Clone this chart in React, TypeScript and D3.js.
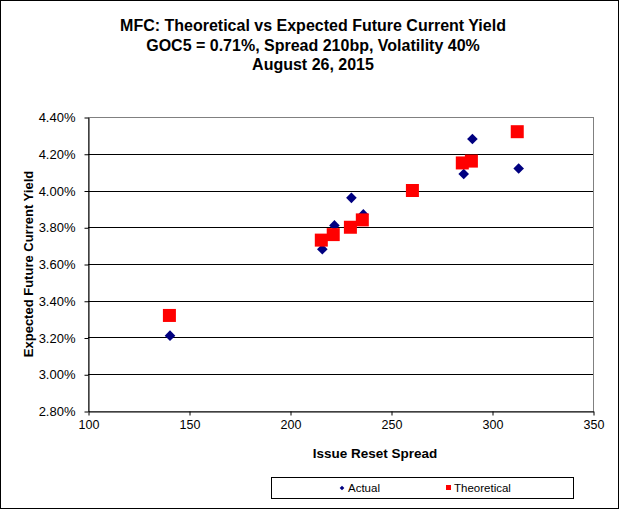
import React, { useEffect, useRef } from 'react';
import * as d3 from 'd3';

// Issue reset spread (bp) and expected future current yield (%)
const actualSpread = [140.6, 216, 222, 230.4, 236.3, 286, 290.3, 313.2];
const actualYield = [3.21, 3.68, 3.81, 3.96, 3.87, 4.09, 4.28, 4.12];

const theoSpread = [140.3, 215.5, 221.4, 229.9, 235.8, 260.6, 285.3, 289.8, 312.5];
const theoYield = [3.32, 3.73, 3.76, 3.8, 3.84, 4.0, 4.15, 4.16, 4.32];

const xTicks = [100, 150, 200, 250, 300, 350];
const yTicks = [2.8, 3.0, 3.2, 3.4, 3.6, 3.8, 4.0, 4.2, 4.4];

const titleLines = [
  'MFC: Theoretical vs Expected Future Current Yield',
  'GOC5 = 0.71%, Spread 210bp, Volatility 40%',
  'August 26, 2015',
];

const FONT = '"Liberation Sans", Arial, sans-serif';

export default function App() {
  const ref = useRef<SVGSVGElement>(null);

  useEffect(() => {
    if (!ref.current) return;
    const width = 619;
    const height = 509;
    const svg = d3.select(ref.current);
    svg.selectAll('*').remove();

    const plot = { left: 88, right: 593, top: 117, bottom: 411 };

    const x = d3.scaleLinear().domain([100, 350]).range([plot.left, plot.right]);
    const y = d3.scaleLinear().domain([2.8, 4.4]).range([plot.bottom, plot.top]);

    // background and outer border
    svg.append('rect')
      .attr('x', 0.5).attr('y', 0.5)
      .attr('width', width - 1).attr('height', height - 1)
      .attr('fill', '#fff').attr('stroke', '#000').attr('stroke-width', 1);

    // titles
    titleLines.forEach((t, i) => {
      svg.append('text')
        .attr('x', 313)
        .attr('y', 31 + i * 19.5)
        .attr('text-anchor', 'middle')
        .attr('font-family', FONT)
        .attr('font-size', 16)
        .attr('font-weight', 'bold')
        .text(t);
    });

    // plot area frame (gray)
    svg.append('rect')
      .attr('x', plot.left + 0.5).attr('y', plot.top + 0.5)
      .attr('width', plot.right - plot.left).attr('height', plot.bottom - plot.top)
      .attr('fill', 'none').attr('stroke', '#808080');

    // horizontal gridlines
    svg.append('g')
      .selectAll('line')
      .data(yTicks.slice(1, -1))
      .enter()
      .append('line')
      .attr('x1', plot.left).attr('x2', plot.right)
      .attr('y1', d => Math.round(y(d)) + 0.5)
      .attr('y2', d => Math.round(y(d)) + 0.5)
      .attr('stroke', '#000');

    // y axis
    const yAxis = svg.append('g')
      .attr('transform', `translate(${plot.left + 0.5},0.5)`)
      .call(d3.axisLeft(y).tickValues(yTicks).tickSize(4).tickSizeOuter(0)
        .tickFormat(d => `${(+d).toFixed(2)}%`));
    yAxis.select('.domain').attr('stroke', '#000');
    yAxis.selectAll('text')
      .attr('font-family', FONT).attr('font-size', 13).attr('fill', '#000')
      .attr('x', -13);

    // x axis
    const xAxis = svg.append('g')
      .attr('transform', `translate(0.5,${plot.bottom + 0.5})`)
      .call(d3.axisBottom(x).tickValues(xTicks).tickSize(4).tickSizeOuter(0));
    xAxis.select('.domain').attr('stroke', '#000');
    xAxis.selectAll('text')
      .attr('font-family', FONT).attr('font-size', 12.5).attr('fill', '#000')
      .attr('y', 9);

    // axis titles
    svg.append('text')
      .attr('x', 375).attr('y', 458)
      .attr('text-anchor', 'middle')
      .attr('font-family', FONT).attr('font-size', 13.5).attr('font-weight', 'bold')
      .text('Issue Reset Spread');

    svg.append('text')
      .attr('transform', `translate(33,${(plot.top + plot.bottom) / 2}) rotate(-90)`)
      .attr('text-anchor', 'middle')
      .attr('font-family', FONT).attr('font-size', 13).attr('font-weight', 'bold')
      .text('Expected Future Current Yield');

    // Actual series (diamonds)
    const diamond = d3.symbol().type(d3.symbolDiamond2).size(72);
    svg.append('g')
      .selectAll('path')
      .data(actualSpread.map((s, i) => [s, actualYield[i]]))
      .enter()
      .append('path')
      .attr('transform', d => `translate(${x(d[0])},${y(d[1])})`)
      .attr('d', diamond())
      .attr('fill', '#000080');

    // Theoretical series (squares)
    const sq = 13;
    svg.append('g')
      .selectAll('rect')
      .data(theoSpread.map((s, i) => [s, theoYield[i]]))
      .enter()
      .append('rect')
      .attr('x', d => x(d[0]) - sq / 2)
      .attr('y', d => y(d[1]) - sq / 2)
      .attr('width', sq).attr('height', sq)
      .attr('fill', '#ff0000');

    // legend
    const legend = svg.append('g');
    legend.append('rect')
      .attr('x', 271.5).attr('y', 477.5)
      .attr('width', 302).attr('height', 21)
      .attr('fill', '#fff').attr('stroke', '#000');
    legend.append('path')
      .attr('transform', 'translate(342,488)')
      .attr('d', d3.symbol().type(d3.symbolDiamond2).size(14)())
      .attr('fill', '#000080');
    legend.append('text')
      .attr('x', 348).attr('y', 492)
      .attr('font-family', FONT).attr('font-size', 11.5)
      .text('Actual');
    legend.append('rect')
      .attr('x', 446).attr('y', 485)
      .attr('width', 5).attr('height', 5)
      .attr('fill', '#ff0000');
    legend.append('text')
      .attr('x', 454).attr('y', 492)
      .attr('font-family', FONT).attr('font-size', 11.5)
      .text('Theoretical');
  }, []);

  return (
    <svg
      ref={ref}
      width={619}
      height={509}
      style={{ position: 'absolute', left: 0, top: 0 }}
    />
  );
}
